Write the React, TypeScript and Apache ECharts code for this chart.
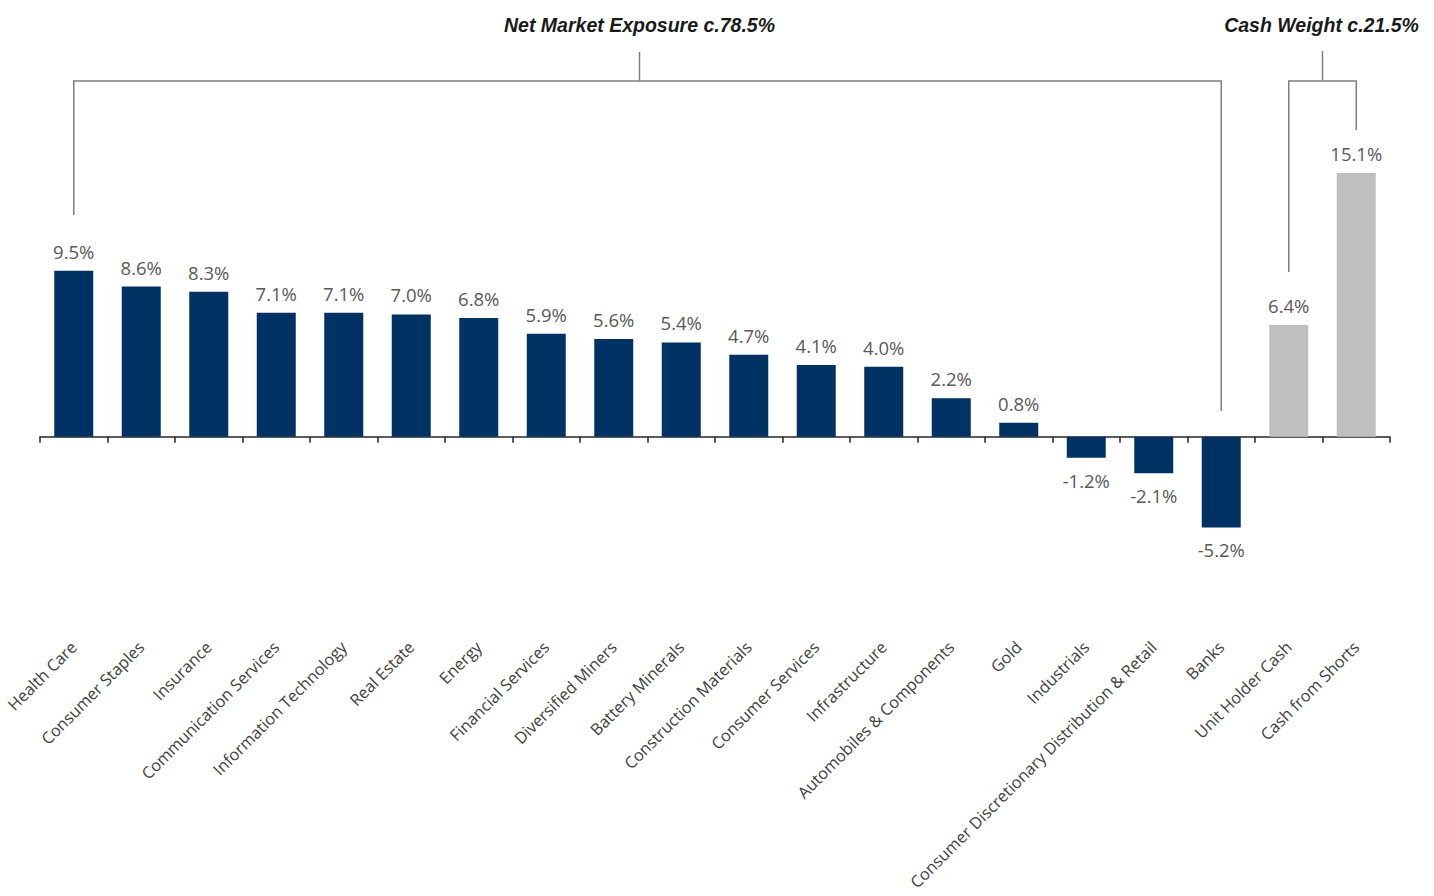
import React, { useEffect, useRef } from "react";
import * as echarts from "echarts";

const categories = [
  "Health Care",
  "Consumer Staples",
  "Insurance",
  "Communication Services",
  "Information Technology",
  "Real Estate",
  "Energy",
  "Financial Services",
  "Diversified Miners",
  "Battery Minerals",
  "Construction Materials",
  "Consumer Services",
  "Infrastructure",
  "Automobiles & Components",
  "Gold",
  "Industrials",
  "Consumer Discretionary Distribution & Retail",
  "Banks",
  "Unit Holder Cash",
  "Cash from Shorts",
];

const weights = [9.5, 8.6, 8.3, 7.1, 7.1, 7.0, 6.8, 5.9, 5.6, 5.4, 4.7, 4.1, 4.0, 2.2, 0.8, -1.2, -2.1, -5.2, 6.4, 15.1];

const cashCategories = ["Unit Holder Cash", "Cash from Shorts"];

const netTitle = "Net Market Exposure c.78.5%";
const cashTitle = "Cash Weight c.21.5%";

const NAVY = "#003263";
const GREY = "#BFBFBF";
const LINE = "#7F7F7F";

export default function App() {
  const ref = useRef<HTMLDivElement>(null);

  useEffect(() => {
    if (!ref.current) return;
    const chart = echarts.init(ref.current, null, { renderer: "svg" });

    const data = weights.map((v, i) => {
      const isCash = cashCategories.includes(categories[i]);
      return {
        value: v,
        itemStyle: { color: isCash ? GREY : NAVY },
        label: {
          position: v < 0 ? "bottom" : "top",
          distance: v < 0 ? 13 : 10,
        },
      };
    });

    chart.setOption({
      animation: false,
      grid: {
        left: 40,
        right: 44,
        top: 87.5,
        bottom: 284.7,
        containLabel: false,
        outerBoundsMode: "none",
      },
      xAxis: {
        type: "category",
        data: categories,
        axisLine: { onZero: true, lineStyle: { color: "#262626", width: 1.5 } },
        axisTick: { show: true, inside: false, length: 6, alignWithLabel: false, lineStyle: { color: "#262626", width: 1.5 } },
        axisLabel: {
          interval: 0,
          rotate: 45,
          margin: 33,
          color: "#404040",
          fontFamily: "Open Sans",
          fontSize: 16.3,
        },
        splitLine: { show: false },
      },
      yAxis: {
        type: "value",
        min: -10,
        max: 20,
        show: false,
        splitLine: { show: false },
      },
      series: [
        {
          type: "bar",
          data,
          barWidth: 39,
          label: {
            show: true,
            color: "#595959",
            fontFamily: "Open Sans",
            fontSize: 18.5,
            formatter: (p: any) => p.value.toFixed(1) + "%",
          },
        },
      ],
    });

    const px = (cat: string) => chart.convertToPixel({ xAxisIndex: 0 }, cat) as number;
    const x1 = px(categories[0]);
    const x2 = px("Banks");
    const x3 = px("Unit Holder Cash");
    const x4 = px("Cash from Shorts");
    const yBar = 81;
    const xm = (x1 + x2) / 2 - 8;
    const xc = (x3 + x4) / 2;
    const ls = { stroke: LINE, lineWidth: 1.5 };
    const titleStyle = {
      fill: "#1a1a1a",
      fontFamily: "Liberation Sans",
      fontWeight: "bold",
      fontStyle: "italic",
      fontSize: 19.5,
      align: "center",
      verticalAlign: "middle",
    };

    chart.setOption({
      graphic: [
        { type: "polyline", shape: { points: [[x1, 215], [x1, yBar], [x2, yBar], [x2, 411]] }, style: { ...ls, fill: null } },
        { type: "line", shape: { x1: xm, y1: 52, x2: xm, y2: yBar }, style: ls },
        { type: "polyline", shape: { points: [[x3, 272], [x3, yBar], [x4, yBar], [x4, 130]] }, style: { ...ls, fill: null } },
        { type: "line", shape: { x1: xc, y1: 51, x2: xc, y2: yBar }, style: ls },
        { type: "text", x: xm, y: 25, style: { ...titleStyle, text: netTitle } },
        { type: "text", x: xc - 1, y: 25, style: { ...titleStyle, text: cashTitle } },
      ],
    });

    return () => chart.dispose();
  }, []);

  return (
    <div
      ref={ref}
      style={{ position: "fixed", left: 0, top: 0, width: 1434, height: 896, background: "#fff" }}
    />
  );
}
